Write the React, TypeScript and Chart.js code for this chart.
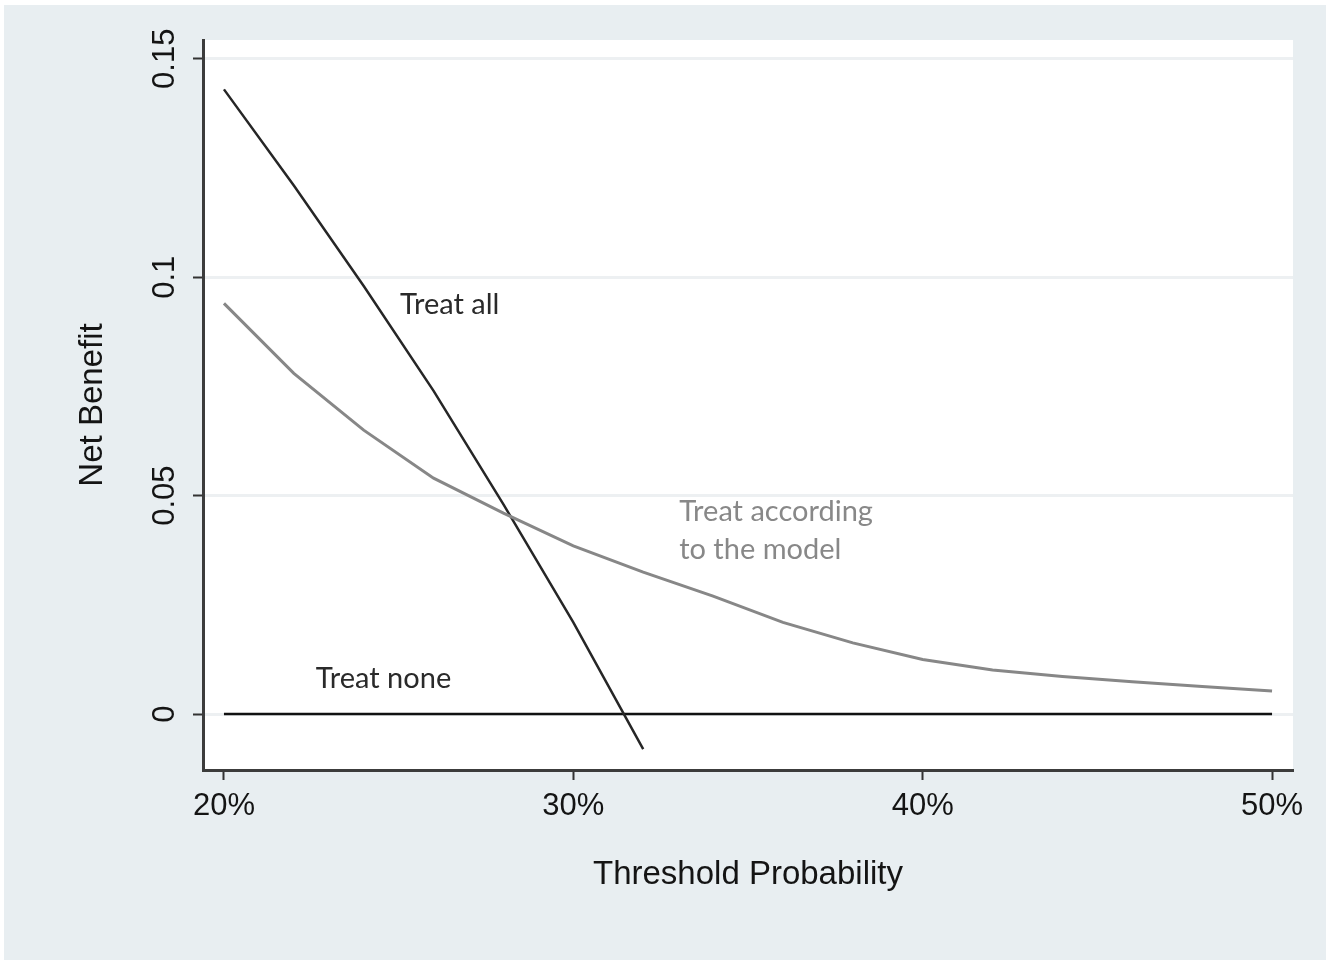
import React, { useEffect, useRef } from 'react';
import { Chart, registerables } from 'chart.js';

Chart.register(...registerables);

// ---- Data ----
const modelThresholds = [20, 22, 24, 26, 28, 30, 32, 34, 36, 38, 40, 42, 44, 46, 48, 50];
const modelNetBenefit = [0.094, 0.078, 0.065, 0.054, 0.046, 0.0385, 0.0325, 0.027, 0.021, 0.0163, 0.0125, 0.0101, 0.0086, 0.0074, 0.0063, 0.0053];
const treatAllThresholds = [20, 22, 24, 26, 28, 30, 32];
const treatAllNetBenefit = [0.143, 0.121, 0.098, 0.074, 0.048, 0.021, -0.008];
const treatNoneThresholds = [20, 50];
const treatNoneNetBenefit = [0, 0];
const xTickValues = [20, 30, 40, 50];
const yTickValues = [0, 0.05, 0.1, 0.15];
const yTickLabels = ['0', '0.05', '0.1', '0.15'];

// Text annotations anchored in data units
const annotationTexts = ['Treat all', 'Treat according', 'to the model', 'Treat none'];
const annotationX = [25.04, 33.03, 33.03, 22.63];
const annotationY = [0.0937, 0.0463, 0.0376, 0.008];
const annotationColors = ['#2a2a2a', '#888888', '#888888', '#2a2a2a'];

const W = 1336;
const H = 964;
const AXIS_FONT = '"Liberation Sans", Arial, Helvetica, sans-serif';
const NOTE_FONT = 'Lato, "Open Sans", sans-serif';
const TEXT_COLOR = '#141414';

const toPoints = (xs: number[], ys: number[]) => xs.map((x, i) => ({ x, y: ys[i] }));

const decorPlugin = {
  id: 'decor',
  beforeDraw(chart: any) {
    const ctx = chart.ctx;
    const a = chart.chartArea;
    ctx.save();
    ctx.fillStyle = '#ffffff';
    ctx.fillRect(0, 0, W, H);
    ctx.fillStyle = '#e8eef1';
    ctx.fillRect(4, 5, 1322, 955);
    ctx.fillStyle = '#ffffff';
    ctx.fillRect(a.left, a.top, a.right - a.left, a.bottom - a.top);
    ctx.restore();
  },
  afterDraw(chart: any) {
    const ctx = chart.ctx;
    const ys = chart.scales.y;
    const xs = chart.scales.x;
    ctx.save();
    // rotated y tick labels
    ctx.fillStyle = TEXT_COLOR;
    ctx.font = `31px ${AXIS_FONT}`;
    ctx.textAlign = 'center';
    ctx.textBaseline = 'middle';
    yTickValues.forEach((v, i) => {
      const py = ys.getPixelForValue(v);
      ctx.save();
      ctx.translate(165, py);
      ctx.rotate(-Math.PI / 2);
      ctx.fillText(yTickLabels[i], 0, 0);
      ctx.restore();
    });
    // annotations
    ctx.font = `29px ${NOTE_FONT}`;
    ctx.textAlign = 'left';
    ctx.textBaseline = 'middle';
    annotationTexts.forEach((t, i) => {
      ctx.fillStyle = annotationColors[i];
      ctx.fillText(t, xs.getPixelForValue(annotationX[i]), ys.getPixelForValue(annotationY[i]));
    });
    ctx.restore();
  },
};

export default function App() {
  const ref = useRef<HTMLCanvasElement | null>(null);

  useEffect(() => {
    if (!ref.current) return;
    const chart = new Chart(ref.current, {
      type: 'line',
      data: {
        datasets: [
          {
            label: 'Treat according to the model',
            data: toPoints(modelThresholds, modelNetBenefit),
            borderColor: '#878787',
            borderWidth: 3,
            pointRadius: 0,
            tension: 0,
          },
          {
            label: 'Treat all',
            data: toPoints(treatAllThresholds, treatAllNetBenefit),
            borderColor: '#262626',
            borderWidth: 2.5,
            pointRadius: 0,
            tension: 0,
          },
          {
            label: 'Treat none',
            data: toPoints(treatNoneThresholds, treatNoneNetBenefit),
            borderColor: '#111111',
            borderWidth: 2.5,
            pointRadius: 0,
            tension: 0,
          },
        ],
      },
      options: {
        responsive: false,
        animation: false,
        events: [],
        layout: { padding: { left: 0, top: 40, right: 43, bottom: 0 } },
        plugins: {
          legend: { display: false },
          tooltip: { enabled: false },
          title: { display: false },
        },
        scales: {
          x: {
            type: 'linear',
            min: 19.4,
            max: 50.6,
            afterBuildTicks: (s: any) => {
              s.ticks = xTickValues.map((v) => ({ value: v }));
            },
            afterFit: (s: any) => {
              s.height = H - 770;
            },
            grid: {
              drawOnChartArea: false,
              drawTicks: true,
              tickLength: 10,
              tickColor: '#333333',
              tickWidth: 2,
            },
            border: { display: true, color: '#3c3c3c', width: 3 },
            ticks: {
              autoSkip: false,
              maxRotation: 0,
              padding: 8,
              color: TEXT_COLOR,
              font: { family: AXIS_FONT, size: 31 },
              callback: (v: any) => `${v}%`,
            },
            title: {
              display: true,
              text: 'Threshold Probability',
              color: TEXT_COLOR,
              font: { family: AXIS_FONT, size: 33 },
              padding: { top: 0, bottom: 69 },
            },
          },
          y: {
            type: 'linear',
            min: -0.0128,
            max: 0.1543,
            afterBuildTicks: (s: any) => {
              s.ticks = yTickValues.map((v) => ({ value: v }));
            },
            afterFit: (s: any) => {
              s.width = 203;
            },
            grid: {
              color: '#edf0f2',
              lineWidth: 3,
              drawTicks: true,
              tickLength: 10,
              tickColor: '#333333',
              tickWidth: 2,
            },
            border: { display: true, color: '#3c3c3c', width: 3 },
            ticks: { display: false },
            title: {
              display: true,
              text: 'Net Benefit',
              color: TEXT_COLOR,
              font: { family: AXIS_FONT, size: 33 },
              padding: { top: 73, bottom: 0 },
            },
          },
        },
      },
      plugins: [decorPlugin],
    } as any);
    return () => chart.destroy();
  }, []);

  return (
    <div style={{ position: 'absolute', left: 0, top: 0, width: W, height: H, background: '#ffffff' }}>
      <canvas ref={ref} width={W} height={H} style={{ display: 'block', width: W, height: H }} />
    </div>
  );
}
